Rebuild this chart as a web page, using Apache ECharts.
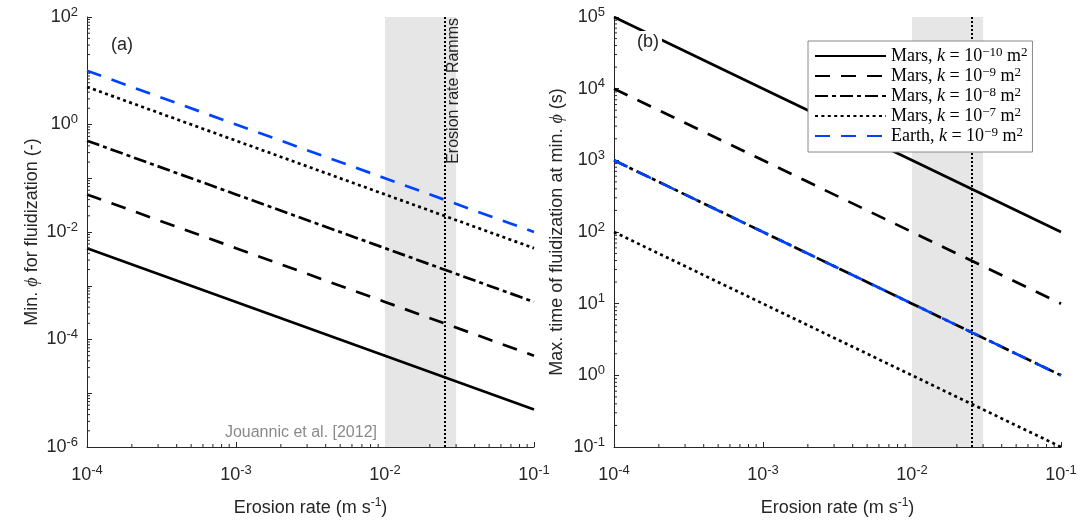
<!DOCTYPE html>
<html>
<head>
<meta charset="UTF-8">
<title>fluidization</title>
<style>
    html,body{margin:0;padding:0;background:#fff;}
    #chart{width:1091px;height:522px;}
</style>
</head>
<body>
<div id="chart"></div>
<script src="https://cdn.jsdelivr.net/npm/echarts@6/dist/echarts.min.js"></script>
<script>
    // erosion rate (m/s)
    const erosion = [1e-4, 1e-3, 1e-2, 1e-1];

    // (a) min. phi for fluidization
    const phiMars10 = [5e-3, 5e-4, 5e-5, 5e-6];
    const phiMars9 = [5e-2, 5e-3, 5e-4, 5e-5];
    const phiMars8 = [0.5, 5e-2, 5e-3, 5e-4];
    const phiMars7 = [5, 0.5, 5e-2, 5e-3];
    const phiEarth9 = [10, 1, 0.1, 1e-2];

    // (b) max. time of fluidization (s)
    const tMars10 = [1e5, 1e4, 1e3, 1e2];
    const tMars9 = [1e4, 1e3, 1e2, 10];
    const tMars8 = [1e3, 1e2, 10, 1];
    const tMars7 = [1e2, 10, 1, 0.1];
    const tEarth9 = [1e3, 1e2, 10, 1];

    const seriesNames = ['Mars, k = 1e-10', 'Mars, k = 1e-9', 'Mars, k = 1e-8', 'Mars, k = 1e-7', 'Earth, k = 1e-9'];
    const legendPlanet = ['Mars', 'Mars', 'Mars', 'Mars', 'Earth'];
    const legendExp = ['\u221210', '\u22129', '\u22128', '\u22127', '\u22129'];

    const rammsBand = [0.01, 0.03];
    const rammsRate = 0.025;

    const xRange = [1e-4, 1e-1];
    const yRangeA = [1e-6, 1e2];
    const yRangeB = [1e-1, 1e5];

    const axisColor = '#262626';
    const blue = '#0043ff';

    const styles = [
        {type: 'solid', color: '#000'},
        {type: [15, 11], color: '#000'},
        {type: [13, 4, 4, 4], color: '#000'},
        {type: [3, 3.4], color: '#000'},
        {type: [15, 11], color: blue}
    ];

    function minors(lo, hi) {
        let out = [];
        for (let e = Math.round(Math.log10(lo)); e < Math.round(Math.log10(hi)); e++) {
            for (let m = 2; m <= 9; m++) out.push(m * Math.pow(10, e));
        }
        return out;
    }

    function pairs(xs, ys) {
        return xs.map((x, i) => [x, ys[i]]);
    }

    function powLabel(v) {
        const e = Math.round(Math.log10(v));
        return '{b|10}{s|' + (e < 0 ? '-' + (-e) : e) + '}';
    }

    const labelRich = {
        b: {fontSize: 18, color: axisColor, fontFamily: 'Liberation Sans'},
        s: {fontSize: 13, color: axisColor, fontFamily: 'Liberation Sans', padding: [0, 0, 10, 0]}
    };

    function xAxisOpt(idx) {
        return {
            type: 'log', logBase: 10, gridIndex: idx, min: xRange[0], max: xRange[1],
            name: '{t|Erosion rate (m s}{s|-1}{t|)}',
            nameLocation: 'middle', nameGap: 50, nameMoveOverlap: false,
            nameTextStyle: {rich: {
                t: {fontSize: 18, color: axisColor, fontFamily: 'Liberation Sans'},
                s: {fontSize: 12, color: axisColor, fontFamily: 'Liberation Sans', padding: [0, 0, 10, 0]}
            }},
            axisLine: {lineStyle: {color: axisColor, width: 1}},
            axisTick: {inside: true, length: 5, lineStyle: {color: axisColor}},
            axisLabel: {margin: 17, formatter: powLabel, rich: labelRich},
            splitLine: {show: false}
        };
    }

    function yAxisOpt(idx, range, name, everyOther, gap) {
        return {
            type: 'log', logBase: 10, gridIndex: idx, min: range[0], max: range[1],
            name: name, nameLocation: 'middle', nameGap: gap,
            nameTextStyle: {rich: {
                t: {fontSize: 18, color: axisColor, fontFamily: 'Liberation Sans'},
                i: {fontSize: 18, color: axisColor, fontFamily: 'Liberation Serif', fontStyle: 'italic'}
            }},
            axisLine: {lineStyle: {color: axisColor, width: 1}},
            axisTick: {inside: true, length: 5, lineStyle: {color: axisColor}},
            axisLabel: {margin: 9, rich: labelRich, formatter: function (v) {
                const e = Math.round(Math.log10(v));
                if (everyOther && e % 2 !== 0) return '';
                return powLabel(v);
            }},
            splitLine: {show: false}
        };
    }

    function tickSeries(idx, vals, onX, other) {
        return {
            type: 'custom', xAxisIndex: idx, yAxisIndex: idx, silent: true, z: 5,
            data: vals.map(v => onX ? [v, other] : [other, v]),
            renderItem: function (params, api) {
                const p = api.coord([api.value(0), api.value(1)]);
                return {
                    type: 'line',
                    shape: onX ? {x1: p[0], y1: p[1], x2: p[0], y2: p[1] - 3}
                               : {x1: p[0], y1: p[1], x2: p[0] + 3, y2: p[1]},
                    style: {stroke: axisColor, lineWidth: 1}
                };
            }
        };
    }

    function bandSeries(idx, withLabel) {
        return {
            type: 'line', xAxisIndex: idx, yAxisIndex: idx, data: [], z: 1, silent: true,
            markArea: {
                silent: true, precision: 6, z: 1,
                itemStyle: {color: '#e6e6e6'},
                data: [[{xAxis: rammsBand[0]}, {xAxis: rammsBand[1]}]]
            },
            markLine: {
                silent: true, precision: 6, z: 2, symbol: ['none', 'none'], animation: false,
                lineStyle: {type: [2, 2], width: 2, color: '#000'},
                label: withLabel ? {
                    show: true, formatter: 'Erosion rate Ramms', position: 'insideEndBottom',
                    fontSize: 16, color: axisColor, fontFamily: 'Liberation Sans', distance: 1
                } : {show: false},
                data: [{xAxis: rammsRate}]
            }
        };
    }

    function lineSeries(idx, data) {
        return data.map((ys, i) => ({
            name: seriesNames[i], type: 'line', xAxisIndex: idx, yAxisIndex: idx,
            data: pairs(erosion, ys), symbol: 'none', z: 3,
            lineStyle: {width: 2.7, type: styles[i].type, color: styles[i].color},
            itemStyle: {color: styles[i].color}
        }));
    }

    const chart = echarts.init(document.getElementById('chart'));
    const option = {
        animation: false,
        backgroundColor: '#fff',
        grid: [
            {left: 87, top: 17, width: 447, height: 431},
            {left: 614, top: 17, width: 447, height: 431}
        ],
        title: [
            {text: '(a)', left: 106, top: 31, textStyle: {fontSize: 18, fontWeight: 'normal', color: axisColor, fontFamily: 'Liberation Sans'}},
            {text: '(b)', left: 634, top: 31, padding: [2, 3], backgroundColor: '#fff',
                textStyle: {fontSize: 18, fontWeight: 'normal', color: axisColor, fontFamily: 'Liberation Sans'}}
        ],
        graphic: [{
            type: 'text', x: 377, y: 425, z: 10,
            style: {text: 'Jouannic et al. [2012]', align: 'right', fill: '#8a8a8a', fontSize: 16, fontFamily: 'Liberation Sans'}
        }],
        legend: {
            data: seriesNames, z: 10,
            orient: 'vertical', left: 808, top: 41,
            padding: [5, 5, 6, 6], itemWidth: 71, itemHeight: 14, itemGap: 0,
            backgroundColor: '#fff', borderColor: '#888', borderWidth: 1,
            selectedMode: false,
            itemStyle: {opacity: 0},
            formatter: function (name) {
                const i = seriesNames.indexOf(name);
                return '{t|' + legendPlanet[i] + ', }{i|k}{t| = 10}{s|' + legendExp[i] + '}{t| m}{s|2}';
            },
            textStyle: {rich: {
                t: {fontSize: 18, lineHeight: 16, color: '#000', fontFamily: 'Liberation Serif'},
                i: {fontSize: 18, lineHeight: 16, color: '#000', fontFamily: 'Liberation Serif', fontStyle: 'italic'},
                s: {fontSize: 13, lineHeight: 12, color: '#000', fontFamily: 'Liberation Serif', padding: [0, 0, 7, 0]}
            }}
        },
        xAxis: [xAxisOpt(0), xAxisOpt(1)],
        yAxis: [
            yAxisOpt(0, yRangeA, '{t|Min. }{i|\u03d5}{t| for fluidization (-)}', true, 46),
            yAxisOpt(1, yRangeB, '{t|Max. time of fluidization at min. }{i|\u03d5}{t| (s)}', false, 48)
        ],
        series: [
            bandSeries(0, true),
            bandSeries(1, false),
            ...lineSeries(0, [phiMars10, phiMars9, phiMars8, phiMars7, phiEarth9]),
            ...lineSeries(1, [tMars10, tMars9, tMars8, tMars7, tEarth9]),
            tickSeries(0, minors(xRange[0], xRange[1]), true, yRangeA[0]),
            tickSeries(0, minors(yRangeA[0], yRangeA[1]), false, xRange[0]),
            tickSeries(1, minors(xRange[0], xRange[1]), true, yRangeB[0]),
            tickSeries(1, minors(yRangeB[0], yRangeB[1]), false, xRange[0])
        ]
    };
    chart.setOption(option);
</script>
</body>
</html>
